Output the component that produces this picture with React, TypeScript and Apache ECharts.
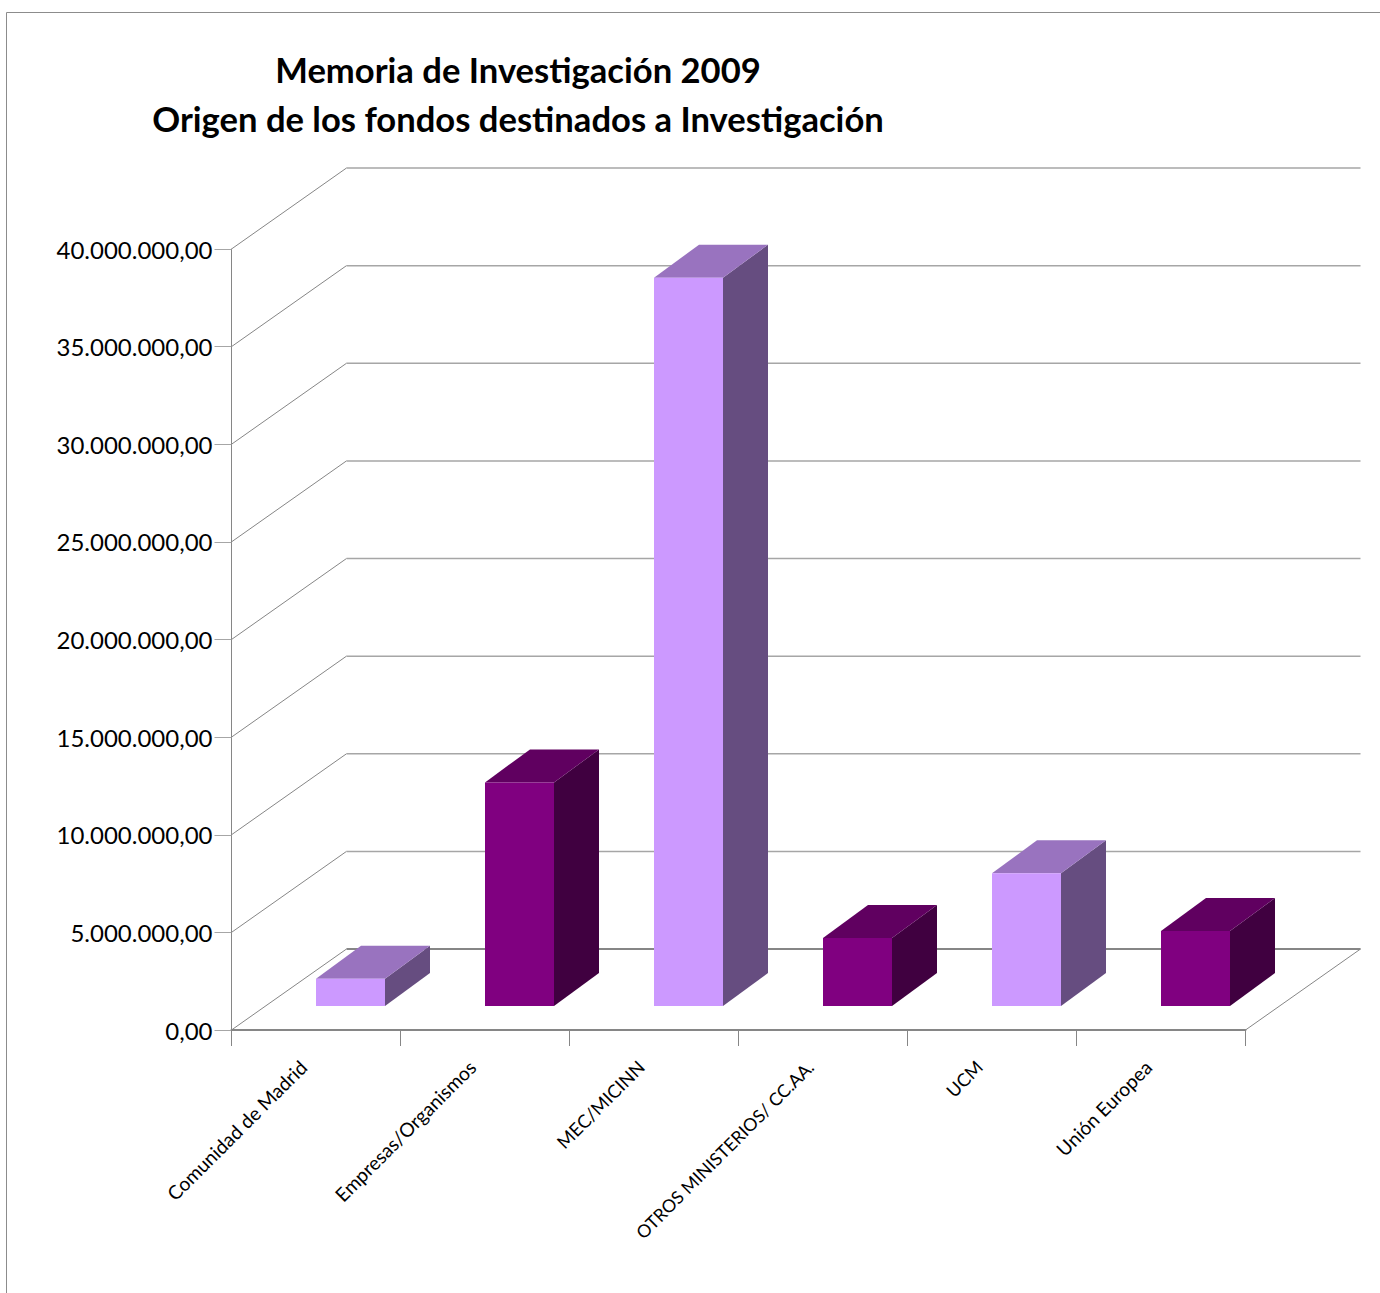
import React, { useEffect, useRef } from "react";
import * as echarts from "echarts";

const titleLines = ["Memoria de Investigación 2009", "Origen de los fondos destinados a Investigación"];
const categories = ["Comunidad de Madrid", "Empresas/Organismos", "MEC/MICINN", "OTROS MINISTERIOS/ CC.AA.", "UCM", "Unión Europea"];
const values = [1400000, 11450000, 37300000, 3480000, 6800000, 3840000];
const yTicks = [0, 5000000, 10000000, 15000000, 20000000, 25000000, 30000000, 35000000, 40000000];

const FONT = "Lato";
const LABEL_SIZES = [19.3, 19.3, 18.3, 17.8, 18.2, 19.3];
const WALL_DX = 115;
const WALL_DY = -81;
const BAR_SHIFT_X = 34.5;
const BAR_SHIFT_Y = -24;
const BAR_DX = 45;
const BAR_DY = -33;
const BAR_W = 69;
const AXIS = "#868686";
const GRID = "#a6a6a6";
const PALETTE = [
  { front: "#cc99ff", side: "#664d80", top: "#9973bf" },
  { front: "#800080", side: "#400040", top: "#600060" },
];

const fmt = (v: number) =>
  v.toFixed(2).replace(".", ",").replace(/\B(?=(\d{3})+(?!\d))(?=.*,)/g, ".");

export default function App() {
  const ref = useRef<HTMLDivElement>(null);
  useEffect(() => {
    const chart = echarts.init(ref.current!, undefined, { renderer: "svg" });
    chart.setOption({
      animation: false,
      backgroundColor: "#ffffff",
      title: {
        text: titleLines.join("\n"),
        left: 513,
        top: 40,
        textAlign: "center",
        textStyle: { fontFamily: FONT, fontSize: 34.6, fontWeight: "bold", lineHeight: 49, color: "#000000" },
      },
      graphic: [
        {
          type: "polyline",
          shape: { points: [[6.5, 1293], [6.5, 12.5], [1380, 12.5]] },
          style: { fill: "none", stroke: "#8c8c8c", lineWidth: 1 },
        },
      ],
      grid: { left: 231.5, top: 249, width: 1014, height: 781 },
      xAxis: {
        type: "category",
        data: categories.map((value, i) => ({ value, textStyle: { fontSize: LABEL_SIZES[i] } })),
        axisLine: { show: true, lineStyle: { color: AXIS, width: 2 } },
        axisTick: { show: true, length: 16, lineStyle: { color: AXIS, width: 1 } },
        axisLabel: {
          rotate: 45,
          interval: 0,
          margin: 21,
          padding: [0, 18, 0, 0],
          fontFamily: FONT,
          fontSize: 19.3,
          color: "#000000",
        },
      },
      yAxis: {
        type: "value",
        min: 0,
        max: 40000000,
        interval: 5000000,
        splitLine: { show: false },
        axisLine: { show: true, lineStyle: { color: AXIS, width: 1 } },
        axisTick: { show: true, length: 17, lineStyle: { color: GRID, width: 1 } },
        axisLabel: {
          margin: 19,
          padding: [3, 0, 0, 0],
          fontFamily: FONT,
          fontSize: 24,
          color: "#000000",
          formatter: (v: number) => fmt(v),
        },
      },
      series: [
        {
          type: "custom",
          name: "walls",
          silent: true,
          z: 1,
          data: yTicks.map((t) => [0, t]),
          renderItem: (params: any, api: any) => {
            const g = params.coordSys;
            const v = api.value(1);
            const y = api.coord([0, v])[1];
            const x0 = g.x;
            const floor = v === 0;
            const children: any[] = [
              {
                type: "line",
                shape: { x1: x0, y1: y, x2: x0 + WALL_DX, y2: y + WALL_DY },
                style: { stroke: AXIS, lineWidth: 1 },
              },
              {
                type: "line",
                shape: { x1: x0 + WALL_DX, y1: y + WALL_DY, x2: x0 + g.width + WALL_DX, y2: y + WALL_DY },
                style: { stroke: floor ? AXIS : GRID, lineWidth: floor ? 2 : 1.5 },
              },
            ];
            if (floor) {
              children.push({
                type: "line",
                shape: { x1: x0 + g.width, y1: y, x2: x0 + g.width + WALL_DX, y2: y + WALL_DY },
                style: { stroke: AXIS, lineWidth: 1 },
              });
            }
            return { type: "group", children };
          },
        },
        {
          type: "custom",
          name: "Fondos",
          silent: true,
          z: 3,
          data: values.map((v, i) => [i, v]),
          renderItem: (params: any, api: any) => {
            const i = api.value(0);
            const top = api.coord([i, api.value(1)]);
            const base = api.coord([i, 0]);
            const c = PALETTE[i % 2];
            const xl = top[0] + BAR_SHIFT_X - BAR_W / 2;
            const xr = xl + BAR_W;
            const yt = top[1] + BAR_SHIFT_Y;
            const yb = base[1] + BAR_SHIFT_Y;
            return {
              type: "group",
              children: [
                {
                  type: "polygon",
                  shape: { points: [[xr, yt], [xr + BAR_DX, yt + BAR_DY], [xr + BAR_DX, yb + BAR_DY], [xr, yb]] },
                  style: { fill: c.side },
                },
                {
                  type: "polygon",
                  shape: { points: [[xl, yt], [xl + BAR_DX, yt + BAR_DY], [xr + BAR_DX, yt + BAR_DY], [xr, yt]] },
                  style: { fill: c.top },
                },
                {
                  type: "polygon",
                  shape: { points: [[xl, yt], [xr, yt], [xr, yb], [xl, yb]] },
                  style: { fill: c.front },
                },
              ],
            };
          },
        },
      ],
    });
    return () => chart.dispose();
  }, []);
  return <div ref={ref} style={{ position: "absolute", left: 0, top: 0, width: 1380, height: 1293 }} />;
}
